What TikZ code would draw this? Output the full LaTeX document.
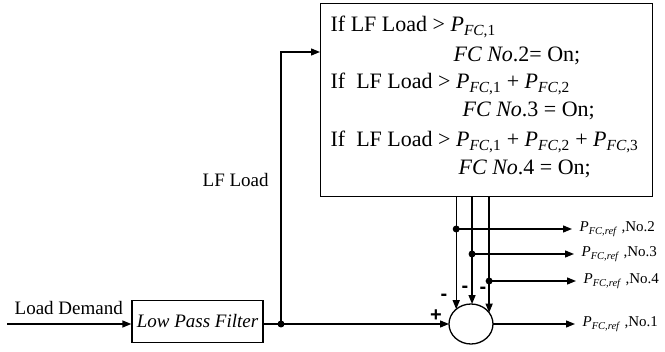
\documentclass[tikz,border=0pt]{standalone}
\usepackage{fontspec}
\setmainfont{Liberation Serif}
\newfontfamily\signfont{Liberation Sans}
\usetikzlibrary{arrows.meta,shapes.geometric}
\newcommand{\Pfc}[1]{\textit{P}\textsubscript{\textit{FC},#1}}
\newcommand{\Pref}{\textit{P}\textsubscript{\textit{FC,ref}}}
\begin{document}
\begin{tikzpicture}[x=1pt,y=-1pt, line width=1.3pt,
  arr/.style={-{Triangle[length=9pt,width=7pt]}},
  big/.style={font=\fontsize{22}{26}\selectfont, inner sep=0, anchor=base west},
  mid/.style={font=\fontsize{19}{23}\selectfont, inner sep=0, anchor=base west},
  lab/.style={font=\fontsize{15}{18}\selectfont, anchor=west, inner xsep=7pt, inner ysep=0pt},
  sign/.style={font=\fontsize{20}{22}\signfont\bfseries, inner sep=0},
  jdot/.style={circle, fill, inner sep=0, minimum size=7pt}]
\useasboundingbox (0,0) rectangle (665,352);
% decision box
\node[draw, anchor=north west, minimum width=332pt, minimum height=193pt, inner sep=0] (box) at (320,3) {};
\node[big] (t1) at (330,32) {If LF Load > \Pfc{1}};
\node[big] (t2) at (453,62) {\textit{FC No}.2= On;};
\node[big] (t3) at (330,89) {If\ \ LF Load > \Pfc{1} + \Pfc{2}};
\node[big] (t4) at (462,117) {\textit{FC No}.3 = On;};
\node[big] (t5) at (330,147) {If\ \ LF Load > \Pfc{1} + \Pfc{2} + \Pfc{3}};
\node[big] (t6) at (458,175) {\textit{FC No}.4 = On;};
% low pass filter
\node[draw, minimum width=131pt, minimum height=42pt, inner sep=0,
      font=\fontsize{19}{23}\selectfont\itshape] (lpf) at (197.5,321.5) {Low Pass Filter};
% summing junction
\node[ellipse, draw, minimum width=44pt, minimum height=40pt, inner sep=0, outer sep=0] (c) at (471,324) {};
% input
\coordinate (src) at (7,324);
\draw[arr] (src) -- (src -| lpf.west);
\node[mid] (ld) at (14,315) {Load Demand};
% branch
\node[jdot] (j1) at (281,324) {};
\coordinate (bin) at (320,52);
\draw (lpf.east |- j1) -- (j1.center);
\draw[arr] (j1.center) -- (c.west);
\draw[arr] (j1.center) |- (bin);
\node[mid] (lfl) at (202,187) {LF Load};
% outputs
\node[lab] (l2) at (572,229) {\Pref{} ,No.2};
\node[lab] (l3) at (574,254) {\Pref{} ,No.3};
\node[lab] (l4) at (576,281) {\Pref{} ,No.4};
\node[lab] (l1) at (575,324) {\Pref{} ,No.1};
\draw[arr] (c.135.7 |- box.south) -- (c.135.7);
\draw[arr] (c.87.1 |- box.south) -- (c.87.1);
\draw[arr] (c.32.6 |- box.south) -- (c.32.6);
\node[jdot] (d2) at (c.135.7 |- l2.west) {};
\node[jdot] (d3) at (c.87.1 |- l3.west) {};
\node[jdot] (d4) at (c.32.6 |- l4.west) {};
\draw[arr] (d2.center) -- (l2.west);
\draw[arr] (d3.center) -- (l3.west);
\draw[arr] (d4.center) -- (l4.west);
\draw[arr] (c.east) -- (l1.west);
% signs
\node[sign] (plus) at (436,316) {+};
\node[sign] (m1) at (444,297) {-};
\node[sign] (m2) at (465,289) {-};
\node[sign] (m3) at (483,290) {-};
\end{tikzpicture}
\end{document}
